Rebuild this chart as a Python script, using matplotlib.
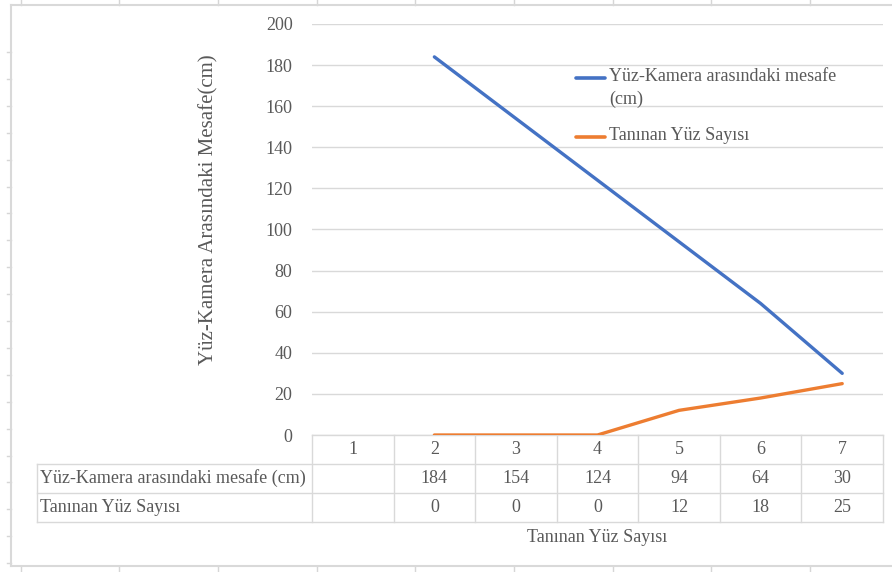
import matplotlib
matplotlib.use("Agg")
import matplotlib.pyplot as plt
from matplotlib.lines import Line2D
from matplotlib.transforms import blended_transform_factory
import numpy as np

plt.rcParams['font.family'] = ['Liberation Serif', 'DejaVu Serif']

categories = [1, 2, 3, 4, 5, 6, 7]
mesafe = [None, 184, 154, 124, 94, 64, 30]
taninan = [None, 0, 0, 0, 12, 18, 25]
row_labels = ['Yüz-Kamera arasındaki mesafe (cm)', 'Tanınan Yüz Sayısı']
legend_labels = ['Yüz-Kamera arasındaki mesafe\n(cm)', 'Tanınan Yüz Sayısı']
y_label = 'Yüz-Kamera Arasındaki Mesafe(cm)'
x_label = 'Tanınan Yüz Sayısı'

BLUE = '#4472C4'
ORANGE = '#ED7D31'
GRID = '#d9d9d9'
TXT = '#595959'
FS = 13

W, H = 892, 572
fig = plt.figure(figsize=(W / 100, H / 100), dpi=100)

def fx(px):
    return px / W

def fy(py):
    return 1 - py / H

# spreadsheet cells behind the chart object
for x in np.arange(20.5, W, 98.7):
    fig.add_artist(Line2D([fx(x), fx(x)], [fy(0), fy(5)], color='#d6d6d6', lw=1))
    fig.add_artist(Line2D([fx(x), fx(x)], [fy(567), fy(572)], color='#d6d6d6', lw=1))
for y in np.arange(52, 568, 26.9):
    fig.add_artist(Line2D([fx(7), fx(11)], [fy(y), fy(y)], color='#d6d6d6', lw=1))

# chart frame
fig.add_artist(Line2D([fx(11), fx(W + 5)], [fy(5), fy(5)], color=GRID, lw=1.5))
fig.add_artist(Line2D([fx(11), fx(11)], [fy(5), fy(566)], color=GRID, lw=1.5))
fig.add_artist(Line2D([fx(11), fx(W + 5)], [fy(566), fy(566)], color=GRID, lw=1.5))

left, right, top, bottom = 312, 883, 24, 435
ax = fig.add_axes([fx(left), fy(bottom), fx(right - left), (bottom - top) / H])
ax.set_xlim(0.5, 7.5)
ax.set_ylim(0, 200)
ax.set_yticks(range(0, 201, 20))
ax.set_xticks([])
for s in ax.spines.values():
    s.set_visible(False)
ax.grid(axis='y', color=GRID, lw=1)
ax.set_axisbelow(True)
ax.tick_params(axis='y', length=0, pad=14, labelsize=FS, labelcolor=TXT)

m = np.array([np.nan if v is None else v for v in mesafe], dtype=float)
t = np.array([np.nan if v is None else v for v in taninan], dtype=float)
ax.plot(categories, m, color=BLUE, lw=2.4, solid_capstyle='round', zorder=3)
ax.plot(categories, t, color=ORANGE, lw=2.4, solid_capstyle='round', zorder=3)

fig.text(fx(209), fy(210), y_label, rotation=90, ha='center', va='center',
         fontsize=15, color=TXT)

# data table under the plot
tr = blended_transform_factory(ax.transData, fig.transFigure)
row_y = [435, 464, 493, 522]
edges = [c - 0.5 for c in categories] + [categories[-1] + 0.5]
for y in row_y[1:]:
    fig.add_artist(Line2D([fx(37), fx(right)], [fy(y), fy(y)], color=GRID, lw=1))
fig.add_artist(Line2D([fx(37), fx(37)], [fy(464), fy(522)], color=GRID, lw=1))
for e in edges:
    ax.add_line(Line2D([e, e], [fy(435), fy(522)], transform=tr, color=GRID,
                       lw=1, clip_on=False))
ax.add_line(Line2D([edges[0], edges[-1]], [fy(435), fy(435)], transform=tr,
                   color=GRID, lw=1, clip_on=False))

for c in categories:
    ax.text(c, fy(450), str(c), transform=tr, ha='center', va='center',
            fontsize=FS, color=TXT)
for i, row in enumerate([mesafe, taninan]):
    yc = (row_y[i + 1] + row_y[i + 2]) / 2
    fig.text(fx(40), fy(yc), row_labels[i], ha='left', va='center',
             fontsize=FS, color=TXT)
    for c, v in zip(categories, row):
        if v is not None:
            ax.text(c, fy(yc), str(v), transform=tr, ha='center', va='center',
                    fontsize=FS, color=TXT)

fig.text(fx(597), fy(537), x_label, ha='center', va='center', fontsize=FS, color=TXT)

# legend
for (y, col), lab in zip([(78, BLUE), (137, ORANGE)], legend_labels):
    fig.add_artist(Line2D([fx(576), fx(605)], [fy(y), fy(y)], color=col, lw=2.6,
                          solid_capstyle='round'))
    fig.text(fx(609), fy(y - 10), lab, ha='left', va='top', fontsize=FS,
             color=TXT, linespacing=1.4)

fig.savefig('out.png', dpi=100)
